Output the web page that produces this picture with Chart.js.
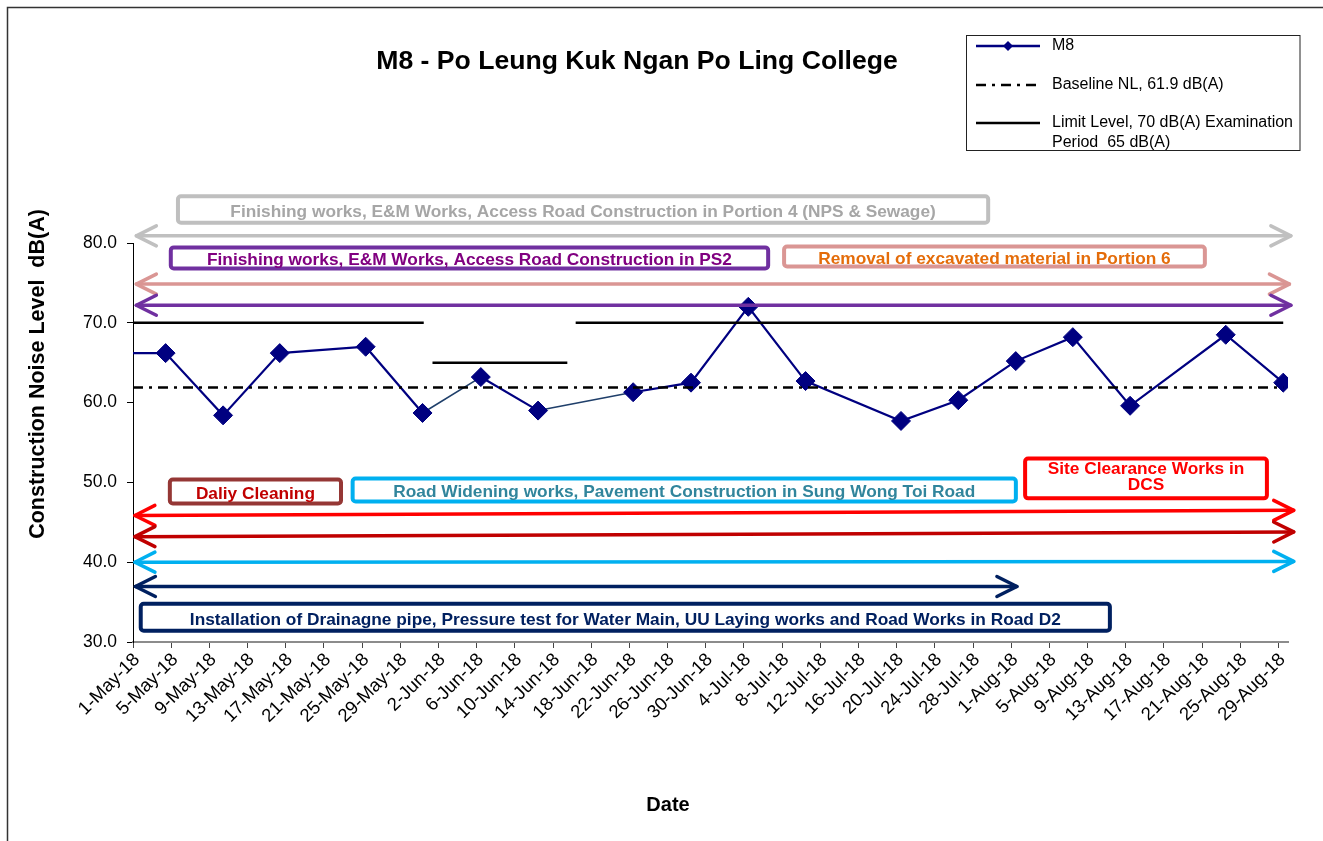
<!DOCTYPE html>
<html>
<head>
<meta charset="utf-8">
<title>M8 - Po Leung Kuk Ngan Po Ling College</title>
<script src="https://cdn.jsdelivr.net/npm/chart.js@4.4.1/dist/chart.umd.min.js"></script>
<style>
    html, body { margin: 0; padding: 0; background: #fff; }
    #wrap { width: 1323px; height: 841px; }
</style>
</head>
<body>
<div id="wrap"><canvas id="noiseChart" width="1323" height="841"></canvas></div>
<script>
// measurement times (first one lies before the axis start and is clipped)
const measureTimes = [
    '2018-04-27 10:00', '2018-05-04 10:00', '2018-05-10 10:30', '2018-05-16 09:00',
    '2018-05-25 09:00', '2018-05-31 08:00', '2018-06-06 10:30', '2018-06-12 10:30',
    '2018-06-22 09:30', '2018-06-28 11:00', '2018-07-04 11:00', '2018-07-10 11:00',
    '2018-07-20 11:00', '2018-07-26 11:00', '2018-08-01 11:30', '2018-08-07 11:00',
    '2018-08-13 11:00', '2018-08-23 11:30', '2018-08-29 12:00'
];
const measuredLevels = [
    66.2, 66.2, 58.4, 66.2, 67.0, 58.7, 63.2, 59.0, 61.3, 62.5,
    72.0, 62.7, 57.7, 60.3, 65.2, 68.2, 59.6, 68.5, 62.5
];

const baselineTimes = ['2018-05-01 00:00', '2018-08-29 12:00'];
const baselineLevel = 61.9;

const limitStarts = ['2018-05-01 00:00', '2018-06-01 09:00', '2018-06-16 09:00'];
const limitEnds = ['2018-05-31 11:00', '2018-06-15 12:00', '2018-08-29 12:00'];
const limitLevels = [70, 65, 70];

const tickLabels = [
    '1-May-18', '5-May-18', '9-May-18', '13-May-18', '17-May-18', '21-May-18', '25-May-18',
    '29-May-18', '2-Jun-18', '6-Jun-18', '10-Jun-18', '14-Jun-18', '18-Jun-18', '22-Jun-18',
    '26-Jun-18', '30-Jun-18', '4-Jul-18', '8-Jul-18', '12-Jul-18', '16-Jul-18', '20-Jul-18',
    '24-Jul-18', '28-Jul-18', '1-Aug-18', '5-Aug-18', '9-Aug-18', '13-Aug-18', '17-Aug-18',
    '21-Aug-18', '25-Aug-18', '29-Aug-18'
];
const yTicks = [30, 40, 50, 60, 70, 80];

// activity annotations (x in days from 1-May, y in dB(A))
const activityBoxes = [
    { text: ['Finishing works, E&M Works, Access Road Construction in Portion 4 (NPS & Sewage)'], border: '#BFBFBF', color: '#A6A6A6', x1: 4.5, x2: 89.8, y1: 86.1, y2: 82.3 },
    { text: ['Finishing works, E&M Works, Access Road Construction in PS2'], border: '#7030A0', color: '#800080', x1: 3.75, x2: 66.75, y1: 79.7, y2: 76.55 },
    { text: ['Removal of excavated material in Portion 6'], border: '#DA9694', color: '#E46C0A', x1: 68.0, x2: 112.5, y1: 79.8, y2: 76.8 },
    { text: ['Daliy Cleaning'], border: '#953735', color: '#C00000', x1: 3.65, x2: 22.0, y1: 50.6, y2: 47.1 },
    { text: ['Road Widening works, Pavement Construction in Sung Wong Toi Road'], border: '#00B0F0', color: '#31859C', x1: 22.8, x2: 92.7, y1: 50.75, y2: 47.35 },
    { text: ['Site Clearance Works in', 'DCS'], border: '#FF0000', color: '#FF0000', x1: 93.25, x2: 119.0, y1: 53.25, y2: 47.75 },
    { text: ['Installation of Drainagne pipe, Pressure test for Water Main, UU Laying works and Road Works in Road D2'], border: '#002060', color: '#002060', x1: 0.6, x2: 102.55, y1: 35.05, y2: 31.15 }
];
const activityArrows = [
    { color: '#C0C0C0', x1: 0.35, x2: 121.3, y1: 80.9, y2: 80.9 },
    { color: '#DA9694', x1: 0.35, x2: 121.15, y1: 74.85, y2: 74.85 },
    { color: '#7030A0', x1: 0.35, x2: 121.3, y1: 72.2, y2: 72.2 },
    { color: '#FF0000', x1: 0.2, x2: 121.6, y1: 45.85, y2: 46.5 },
    { color: '#C00000', x1: 0.2, x2: 121.6, y1: 43.2, y2: 43.8 },
    { color: '#00B0F0', x1: 0.2, x2: 121.6, y1: 40.0, y2: 40.1 },
    { color: '#002060', x1: 0.25, x2: 92.6, y1: 36.95, y2: 36.95 }
];

const FONT = "'Liberation Sans', Arial, sans-serif";
const MONTHS = { Jan: 0, Feb: 1, Mar: 2, Apr: 3, May: 4, Jun: 5, Jul: 6, Aug: 7, Sep: 8, Oct: 9, Nov: 10, Dec: 11 };
const START = Date.UTC(2018, 4, 1);

function toDay(s) {
    const parts = s.split(' ');
    const d = parts[0].split('-').map(Number);
    const t = (parts[1] || '00:00').split(':').map(Number);
    return (Date.UTC(d[0], d[1] - 1, d[2], t[0], t[1]) - START) / 86400000;
}

function labelToDay(label) {
    const p = label.split('-');
    return (Date.UTC(2000 + Number(p[2]), MONTHS[p[1]], Number(p[0])) - START) / 86400000;
}

const tickDays = tickLabels.map(labelToDay);

const seriesData = measureTimes.map((t, i) => ({ x: toDay(t), y: measuredLevels[i] }));
const baselineData = baselineTimes.map(t => ({ x: toDay(t), y: baselineLevel }));
const limitData = [];
for (let i = 0; i < limitLevels.length; i++) {
    if (i > 0) limitData.push({ x: toDay(limitStarts[i]) - 0.01, y: null });
    limitData.push({ x: toDay(limitStarts[i]), y: limitLevels[i] });
    limitData.push({ x: toDay(limitEnds[i]), y: limitLevels[i] });
}

// segments that bridge a missing measurement are drawn thinner
const bridgedSegments = [5, 7];

function drawHead(ctx, x, y, ang) {
    const L = 20, W = 10;
    const c = Math.cos(ang), s = Math.sin(ang);
    ctx.beginPath();
    ctx.moveTo(x - L * c + W * s, y - L * s - W * c);
    ctx.lineTo(x, y);
    ctx.lineTo(x - L * c - W * s, y - L * s + W * c);
    ctx.stroke();
}

const annotationPlugin = {
    id: 'activities',
    afterDatasetsDraw(chart) {
        const ctx = chart.ctx;
        const xs = chart.scales.x;
        const ys = chart.scales.y;
        ctx.save();

        activityArrows.forEach(a => {
            const x1 = xs.getPixelForValue(a.x1), x2 = xs.getPixelForValue(a.x2);
            const y1 = ys.getPixelForValue(a.y1), y2 = ys.getPixelForValue(a.y2);
            ctx.strokeStyle = a.color;
            ctx.lineWidth = 3.5;
            ctx.lineCap = 'round';
            ctx.lineJoin = 'round';
            ctx.beginPath();
            ctx.moveTo(x1, y1);
            ctx.lineTo(x2, y2);
            ctx.stroke();
            const ang = Math.atan2(y2 - y1, x2 - x1);
            drawHead(ctx, x2, y2, ang);
            drawHead(ctx, x1, y1, ang + Math.PI);
        });

        activityBoxes.forEach(b => {
            const left = xs.getPixelForValue(b.x1), right = xs.getPixelForValue(b.x2);
            const top = ys.getPixelForValue(b.y1), bottom = ys.getPixelForValue(b.y2);
            ctx.lineWidth = 4;
            ctx.strokeStyle = b.border;
            ctx.fillStyle = '#fff';
            ctx.beginPath();
            ctx.roundRect(left + 2, top + 2, right - left - 4, bottom - top - 4, 3);
            ctx.fill();
            ctx.stroke();
            ctx.fillStyle = b.color;
            ctx.font = 'bold 17.3px ' + FONT;
            ctx.textAlign = 'center';
            ctx.textBaseline = 'middle';
            const cx = (left + right) / 2;
            const lh = 15.5;
            const n = b.text.length;
            const cy = (top + bottom) / 2 + (n === 1 ? 2.5 : -1) - (n - 1) * lh / 2;
            b.text.forEach((line, i) => ctx.fillText(line, cx, cy + i * lh));
        });
        ctx.restore();
    },
    afterDraw(chart) {
        const ctx = chart.ctx;
        const ds = chart.data.datasets;
        ctx.save();

        // outer frame
        ctx.strokeStyle = '#333';
        ctx.lineWidth = 1.5;
        ctx.strokeRect(7.5, 7.5, 1400, 900);

        // titles
        ctx.fillStyle = '#000';
        ctx.textAlign = 'center';
        ctx.textBaseline = 'middle';
        ctx.font = 'bold 26.6px ' + FONT;
        ctx.fillText('M8 - Po Leung Kuk Ngan Po Ling College', 637, 62);
        ctx.font = 'bold 20px ' + FONT;
        ctx.fillText('Date', 668, 805);
        ctx.save();
        ctx.translate(38, 374);
        ctx.rotate(-Math.PI / 2);
        ctx.font = 'bold 21.5px ' + FONT;
        ctx.fillText('Construction Noise Level  dB(A)', 0, 0);
        ctx.restore();

        // legend box
        ctx.strokeStyle = '#222';
        ctx.lineWidth = 1;
        ctx.strokeRect(966.5, 35.5, 333.5, 115);
        const rows = [46, 85, 123];
        ctx.font = '16px ' + FONT;
        ctx.textAlign = 'left';
        ctx.textBaseline = 'middle';
        ds.forEach((d, i) => {
            const y = rows[i];
            ctx.strokeStyle = d.borderColor;
            ctx.lineWidth = 2.5;
            ctx.setLineDash(d.borderDash || []);
            ctx.beginPath();
            ctx.moveTo(976, y);
            ctx.lineTo(1040, y);
            ctx.stroke();
            ctx.setLineDash([]);
            if (i === 0) {
                ctx.fillStyle = d.pointBackgroundColor;
                ctx.beginPath();
                ctx.moveTo(1008, y - 5);
                ctx.lineTo(1013, y);
                ctx.lineTo(1008, y + 5);
                ctx.lineTo(1003, y);
                ctx.closePath();
                ctx.fill();
            }
            ctx.fillStyle = '#000';
            const lines = d.legendText || [d.label];
            lines.forEach((t, k) => ctx.fillText(t, 1052, y + k * 20));
        });
        ctx.restore();
    }
};

Chart.defaults.font.family = FONT;
Chart.defaults.color = '#000';

new Chart(document.getElementById('noiseChart'), {
    type: 'line',
    data: {
        datasets: [{
            label: 'M8',
            data: seriesData,
            borderColor: '#000080',
            borderWidth: 2.2,
            pointStyle: 'rectRot',
            pointRadius: ctx => ctx.dataIndex === 0 ? 0 : 9.5,
            pointBackgroundColor: '#000080',
            pointBorderColor: '#000080',
            pointBorderWidth: 1,
            tension: 0,
            order: 3,
            segment: {
                borderColor: ctx => bridgedSegments.includes(ctx.p0DataIndex) ? '#1F3F6A' : undefined,
                borderWidth: ctx => bridgedSegments.includes(ctx.p0DataIndex) ? 1.6 : undefined
            }
        }, {
            label: 'Baseline NL, 61.9 dB(A)',
            data: baselineData,
            borderColor: '#000',
            borderWidth: 2.5,
            borderDash: [10, 6, 3, 6],
            pointRadius: 0,
            order: 2
        }, {
            label: 'Limit Level, 70 dB(A) Examination Period  65 dB(A)',
            legendText: ['Limit Level, 70 dB(A) Examination', 'Period  65 dB(A)'],
            data: limitData,
            borderColor: '#000',
            borderWidth: 2.5,
            pointRadius: 0,
            spanGaps: false,
            order: 1
        }]
    },
    options: {
        responsive: false,
        animation: false,
        devicePixelRatio: 1,
        layout: { padding: { left: 0, top: 243, right: 35, bottom: 0 } },
        plugins: {
            legend: { display: false },
            tooltip: { enabled: false }
        },
        scales: {
            x: {
                type: 'linear',
                min: 0,
                max: 121,
                afterFit: scale => { scale.height = 199; },
                afterBuildTicks: scale => { scale.ticks = tickDays.map(v => ({ value: v })); },
                ticks: {
                    autoSkip: false,
                    minRotation: 45,
                    maxRotation: 45,
                    padding: 1,
                    labelOffset: 4,
                    font: { size: 18.5 },
                    color: '#000',
                    callback: value => tickLabels[tickDays.indexOf(value)]
                },
                grid: { drawOnChartArea: false, drawTicks: true, tickLength: 6, color: '#444' },
                border: { display: true, color: '#8c8c8c', width: 2 }
            },
            y: {
                min: 30,
                max: 80,
                afterFit: scale => { scale.width = 133; },
                afterBuildTicks: scale => { scale.ticks = yTicks.map(v => ({ value: v })); },
                ticks: {
                    padding: 10,
                    font: { size: 17.5 },
                    color: '#000',
                    callback: value => value.toFixed(1)
                },
                grid: { drawOnChartArea: false, drawTicks: true, tickLength: 6, color: '#000' },
                border: { display: true, color: '#000', width: 1 }
            }
        }
    },
    plugins: [annotationPlugin]
});
</script>
</body>
</html>
